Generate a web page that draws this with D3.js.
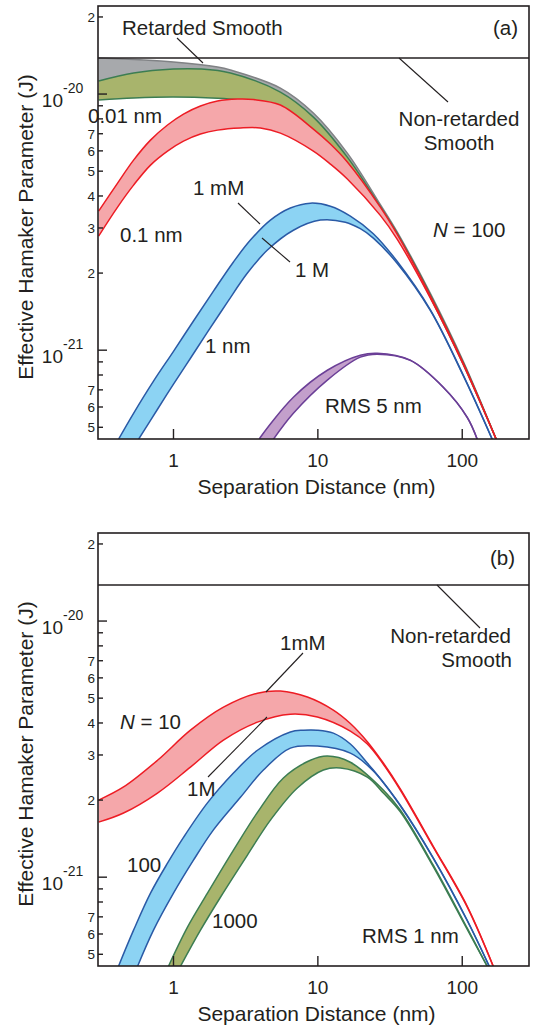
<!DOCTYPE html>
<html>
<head>
<meta charset="utf-8">
<script src="https://cdn.jsdelivr.net/npm/d3@7"></script>
<style>
  body { margin: 0; background: #fff; }
  svg text { font-family: "Liberation Sans", Arial, Helvetica, sans-serif; fill: #231f20; }
</style>
</head>
<body>
<div id="chart"></div>
<script>
// distance in nm, Hamaker parameter in units of 1e-21 J
const nonRetarded = 13.82;

// panel (a), N = 100
const aRetarded = [[0.303,13.82],[1.0,13.34],[2.02,12.75],[2.48,12.41],[5.50,10.55],[9.31,8.43],[16.0,5.88],[27.1,3.70],[35.5,2.89],[60.0,1.67],[101.6,0.905],[171.9,0.449]];
const aGreenUpper = [[0.303,11.24],[0.529,12.08],[1.0,12.52],[1.54,12.52],[2.48,12.08],[5.50,10.18],[9.31,8.13],[16.0,5.67],[27.1,3.63],[35.5,2.85],[60.0,1.65],[101.6,0.895],[171.9,0.449]];
const aGreenLower = [[0.303,9.48],[0.529,9.65],[1.0,9.73],[2.02,9.62],[2.77,9.50],[3.58,9.40],[5.50,8.95],[9.31,7.20],[16.0,5.36],[27.1,3.58],[35.5,2.80],[60.0,1.61],[101.6,0.880],[171.9,0.449]];
const aRedUpper = [[0.303,3.49],[0.410,4.49],[0.529,5.52],[0.693,6.61],[0.909,7.57],[1.173,8.35],[1.538,8.98],[2.016,9.39],[2.773,9.56],[3.578,9.52],[5.503,9.06],[9.309,7.30],[12.21,6.38],[16.0,5.43],[27.07,3.62],[35.49,2.83],[60.04,1.63],[101.6,0.889],[171.9,0.449]];
const aRedLower = [[0.303,2.79],[0.410,3.62],[0.529,4.41],[0.693,5.28],[0.909,5.99],[1.173,6.55],[1.538,6.98],[2.016,7.23],[2.909,7.37],[4.0,7.37],[5.503,7.04],[9.309,5.99],[12.21,5.33],[16.0,4.66],[27.07,3.36],[35.49,2.71],[60.04,1.60],[101.6,0.879],[171.9,0.449]];
const aBlueUpper = [[0.416,0.449],[0.529,0.567],[0.727,0.757],[1.0,0.99],[1.375,1.30],[1.891,1.70],[2.602,2.21],[3.411,2.69],[4.692,3.22],[6.450,3.59],[8.875,3.75],[12.21,3.65],[16.79,3.34],[24.22,2.85],[35.49,2.22],[60.04,1.44],[101.6,0.80],[161.3,0.449]];
const aBlueLower = [[0.573,0.449],[0.775,0.588],[1.0,0.737],[1.311,0.930],[1.719,1.176],[2.364,1.54],[3.252,2.0],[4.473,2.46],[6.767,2.94],[10.41,3.22],[15.50,3.16],[19.68,2.98],[24.22,2.74],[35.49,2.18],[60.04,1.43],[101.6,0.795],[161.3,0.449]];
const aPurpleUpper = [[3.9,0.445],[4.0,0.457],[6.767,0.655],[11.63,0.835],[19.68,0.956],[25.81,0.973],[43.66,0.914],[73.87,0.717],[108.3,0.547],[127.0,0.449]];
const aPurpleLower = [[4.921,0.449],[6.767,0.567],[11.63,0.764],[19.68,0.939],[25.81,0.965],[43.66,0.912],[73.87,0.716],[108.3,0.546],[127.0,0.449]];

// panel (b), RMS 1 nm
const bRedUpper = [[0.303,2.0],[0.451,2.25],[0.775,2.86],[1.311,3.75],[2.218,4.61],[3.814,5.23],[5.503,5.33],[8.46,5.05],[12.80,4.49],[16.79,3.98],[22.01,3.38],[28.41,2.79],[37.24,2.21],[63.0,1.32],[108.3,0.770],[163.9,0.449]];
const bRedLower = [[0.303,1.64],[0.451,1.78],[0.775,2.13],[1.311,2.69],[2.218,3.43],[3.814,4.03],[6.450,4.33],[9.92,4.22],[16.79,3.72],[22.01,3.31],[28.41,2.76],[37.24,2.19],[63.0,1.31],[108.3,0.764],[163.9,0.449]];
const bBlueUpper = [[0.416,0.449],[0.529,0.621],[0.693,0.866],[0.909,1.134],[1.173,1.43],[1.719,1.95],[2.602,2.55],[3.814,3.13],[6.450,3.69],[7.937,3.75],[9.92,3.75],[12.80,3.65],[16.79,3.31],[22.01,2.79],[24.22,2.62],[37.24,1.91],[63.0,1.19],[108.3,0.679],[153.8,0.449]];
const bBlueLower = [[0.564,0.449],[0.727,0.621],[1.0,0.866],[1.375,1.165],[1.891,1.53],[2.909,2.05],[4.197,2.62],[6.450,3.19],[9.92,3.25],[16.79,3.05],[24.22,2.60],[37.24,1.90],[63.0,1.185],[108.3,0.676],[153.8,0.449]];
const bGreenUpper = [[0.923,0.449],[1.250,0.638],[1.719,0.866],[2.602,1.275],[3.814,1.79],[5.771,2.44],[8.875,2.86],[11.63,2.97],[16.79,2.81],[28.41,2.19],[37.24,1.83],[63.0,1.114],[108.3,0.632],[148.9,0.449]];
const bGreenLower = [[1.118,0.449],[1.538,0.621],[2.115,0.835],[3.252,1.22],[4.692,1.67],[7.21,2.23],[10.92,2.62],[14.31,2.67],[22.01,2.46],[28.41,2.13],[37.24,1.80],[63.0,1.10],[108.3,0.625],[148.9,0.449]];

const xTicks = [1, 10, 100];
const xTickLabels = ["1", "10", "100"];
const yTicks = [0.5, 0.6, 0.7, 0.8, 0.9, 1, 2, 3, 4, 5, 6, 7, 8, 9, 10, 20];
const yTickLabels = ["5", "6", "7", "", "", "10^-21", "2", "3", "4", "5", "6", "7", "", "", "10^-20", "2"];

const width = 537, height = 1030;
const left = 98, right = 529, plotH = 433;

const colors = {
  gray:   { fill: "#a7a9ac", stroke: "#808285" },
  green:  { fill: "#a8b46c", stroke: "#3c7d52" },
  red:    { fill: "#f5a7aa", stroke: "#ed1c24" },
  blue:   { fill: "#8cd3f3", stroke: "#2a5aa6" },
  purple: { fill: "#c39fcb", stroke: "#6b3f97" }
};

const svg = d3.select("#chart").append("svg")
  .attr("width", width)
  .attr("height", height);

const x = d3.scaleLog().domain([0.3, 290]).range([left, right]);

function drawPanel(top, id, bands, notes) {
  const y = d3.scaleLog().domain([0.45, 22.07]).range([top + plotH, top]);
  const g = svg.append("g");

  g.append("clipPath").attr("id", "clip" + id)
    .append("rect").attr("x", left).attr("y", top).attr("width", right - left).attr("height", plotH);

  const line = d3.line()
    .x(d => x(d[0]))
    .y(d => y(d[1]))
    .curve(d3.curveCatmullRom.alpha(0.5));

  const plot = g.append("g").attr("clip-path", "url(#clip" + id + ")");

  bands.forEach(b => {
    const c = colors[b.color];
    plot.append("path")
      .attr("d", line(b.upper) + line(b.lower.slice().reverse()).replace(/^M/, "L") + "Z")
      .attr("fill", c.fill)
      .attr("stroke", "none");
    b.strokes.forEach(s => {
      plot.append("path")
        .attr("d", line(s))
        .attr("fill", "none")
        .attr("stroke", c.stroke)
        .attr("stroke-width", 1.5);
    });
  });

  // non-retarded smooth level
  plot.append("line")
    .attr("x1", left).attr("x2", right)
    .attr("y1", y(nonRetarded)).attr("y2", y(nonRetarded))
    .attr("stroke", "#231f20").attr("stroke-width", 1.6);

  // frame
  g.append("rect")
    .attr("x", left).attr("y", top)
    .attr("width", right - left).attr("height", plotH)
    .attr("fill", "none").attr("stroke", "#231f20").attr("stroke-width", 1.6);

  // y ticks (inward)
  yTicks.forEach((t, i) => {
    const major = (t === 1 || t === 10);
    g.append("line")
      .attr("x1", left).attr("x2", left + (major ? 9 : 5))
      .attr("y1", y(t)).attr("y2", y(t))
      .attr("stroke", "#231f20").attr("stroke-width", 1.4);
    const lab = yTickLabels[i];
    if (!lab) return;
    if (lab.indexOf("^") >= 0) {
      const parts = lab.split("^");
      g.append("text").attr("x", 63).attr("y", y(t) + 13)
        .attr("text-anchor", "end").style("font-size", "19px").text(parts[0]);
      g.append("text").attr("x", 63).attr("y", y(t) - 1)
        .attr("text-anchor", "start").style("font-size", "14px").text(parts[1]);
    } else {
      g.append("text").attr("x", 95).attr("y", y(t) + 5)
        .attr("text-anchor", "end").style("font-size", "13.5px").text(lab);
    }
  });

  // x ticks (inward)
  xTicks.forEach((t, i) => {
    g.append("line")
      .attr("x1", x(t)).attr("x2", x(t))
      .attr("y1", top + plotH).attr("y2", top + plotH - 10)
      .attr("stroke", "#231f20").attr("stroke-width", 1.4);
    g.append("text")
      .attr("x", x(t)).attr("y", top + plotH + 28)
      .attr("text-anchor", "middle").style("font-size", "19px")
      .text(xTickLabels[i]);
  });

  g.append("text")
    .attr("x", (left + right) / 2 + 3).attr("y", top + plotH + 55)
    .attr("text-anchor", "middle").style("font-size", "21px")
    .text("Separation Distance (nm)");

  g.append("text")
    .attr("transform", "translate(33," + (top + 221) + ") rotate(-90)")
    .attr("text-anchor", "middle").style("font-size", "21px")
    .text("Effective Hamaker Parameter (J)");

  // annotations, positions relative to panel top
  notes.lines.forEach(l => {
    g.append("line")
      .attr("x1", l[0]).attr("y1", top + l[1]).attr("x2", l[2]).attr("y2", top + l[3])
      .attr("stroke", "#231f20").attr("stroke-width", 1.1);
  });
  notes.texts.forEach(t => {
    const el = g.append("text")
      .attr("x", t.x).attr("y", top + t.y)
      .attr("text-anchor", t.anchor || "start")
      .style("font-size", "20.5px");
    if (t.italic) {
      el.append("tspan").style("font-style", "italic").text(t.italic);
    }
    el.append("tspan").text(t.text);
  });
}

drawPanel(6, "a", [
  { color: "gray", upper: aRetarded, lower: aGreenUpper, strokes: [aRetarded] },
  { color: "green", upper: aGreenUpper, lower: aGreenLower, strokes: [aGreenUpper, aGreenLower] },
  { color: "red", upper: aRedUpper, lower: aRedLower, strokes: [aRedUpper, aRedLower] },
  { color: "blue", upper: aBlueUpper, lower: aBlueLower, strokes: [aBlueUpper, aBlueLower] },
  { color: "purple", upper: aPurpleUpper, lower: aPurpleLower, strokes: [aPurpleUpper, aPurpleLower] }
], {
  lines: [[177, 32, 203, 57], [399, 52, 448, 96], [238, 197, 260, 218], [262, 232, 290, 256]],
  texts: [
    { x: 122, y: 29, text: "Retarded Smooth" },
    { x: 518, y: 29, text: "(a)", anchor: "end" },
    { x: 459, y: 120, text: "Non-retarded", anchor: "middle" },
    { x: 459, y: 144, text: "Smooth", anchor: "middle" },
    { x: 88, y: 117, text: "0.01 nm" },
    { x: 120, y: 236, text: "0.1 nm" },
    { x: 193, y: 189, text: "1 mM" },
    { x: 295, y: 271, text: "1 M" },
    { x: 433, y: 231, italic: "N", text: " = 100" },
    { x: 205, y: 347, text: "1 nm" },
    { x: 325, y: 407, text: "RMS 5 nm" }
  ]
});

drawPanel(533, "b", [
  { color: "red", upper: bRedUpper, lower: bRedLower, strokes: [bRedUpper, bRedLower] },
  { color: "blue", upper: bBlueUpper, lower: bBlueLower, strokes: [bBlueUpper, bBlueLower] },
  { color: "green", upper: bGreenUpper, lower: bGreenLower, strokes: [bGreenUpper, bGreenLower] }
], {
  lines: [[437, 52, 480, 95], [303, 120, 266, 159], [267, 184, 208, 244]],
  texts: [
    { x: 515, y: 32, text: "(b)", anchor: "end" },
    { x: 511, y: 110, text: "Non-retarded", anchor: "end" },
    { x: 512, y: 134, text: "Smooth", anchor: "end" },
    { x: 280, y: 117, text: "1mM" },
    { x: 187, y: 263, text: "1M" },
    { x: 120, y: 196, italic: "N", text: " = 10" },
    { x: 127, y: 339, text: "100" },
    { x: 212, y: 395, text: "1000" },
    { x: 362, y: 410, text: "RMS 1 nm" }
  ]
});
</script>
</body>
</html>
